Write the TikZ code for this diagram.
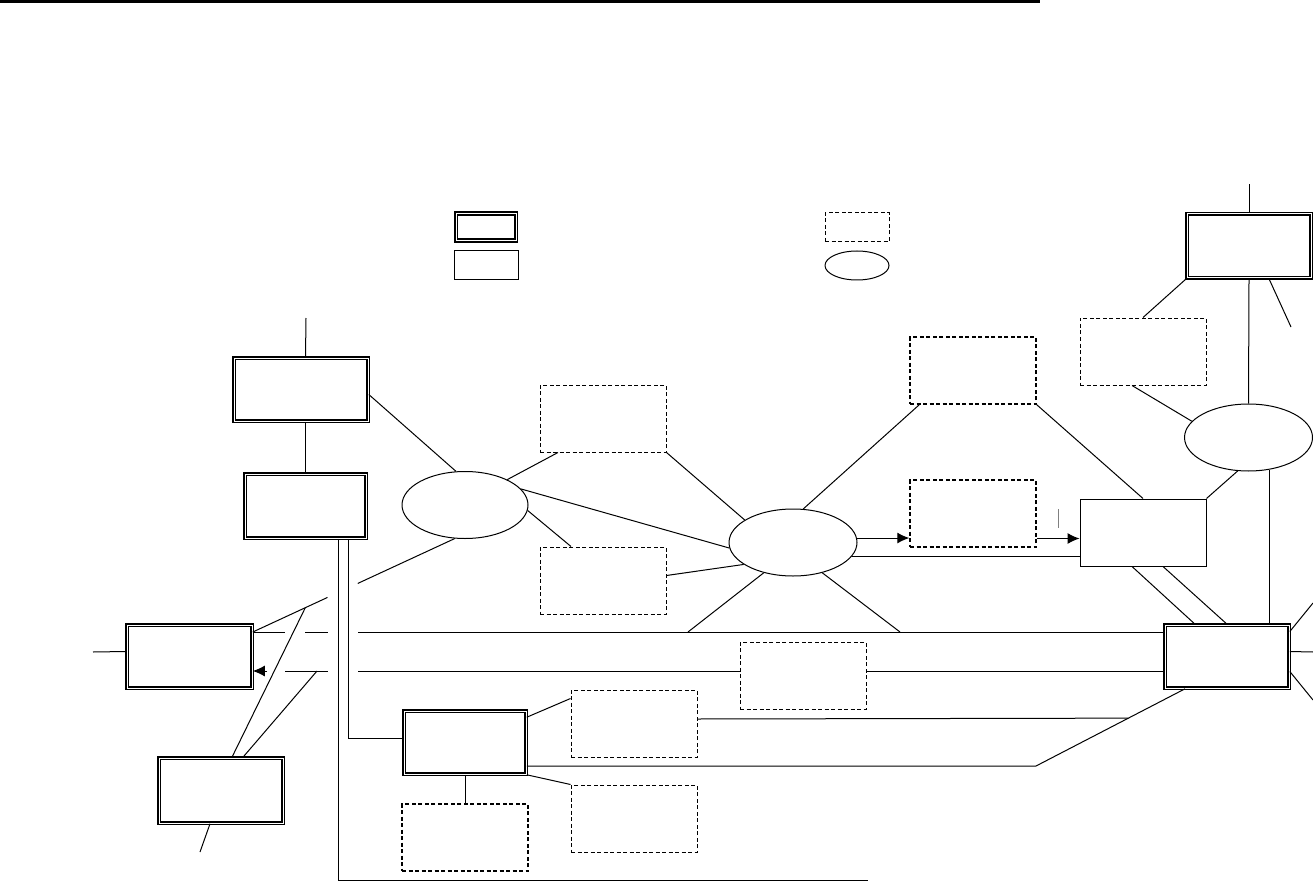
\documentclass[tikz,border=0pt]{standalone}
\usetikzlibrary{shapes.geometric,arrows.meta,calc}

\begin{document}
\begin{tikzpicture}[x=1pt, y=-1pt, line width=1pt,
    dblbox/.style={draw, double, line width=1.6pt, double distance=1pt, inner sep=0pt, minimum width=124pt, minimum height=63pt},
    dashbox/.style={draw, dash pattern=on 4pt off 2.5pt, inner sep=0pt, minimum width=126pt, minimum height=67pt},
    heavy/.style={line width=1.5pt},
    plainbox/.style={draw, inner sep=0pt, minimum width=126pt, minimum height=67pt},
    hub/.style={draw, ellipse, inner sep=0pt, minimum width=128pt, minimum height=67pt},
    arr/.style={-{Latex[length=12pt,width=11pt]}}]
    \useasboundingbox (0,0) rectangle (1313,882);
    \draw[line width=3pt] (0,1.5) -- (1040,1.5);

    \node[dblbox, minimum width=60pt, minimum height=27pt] (legdouble) at (486,227) {};
    \node[plainbox, minimum width=64pt, minimum height=29pt] (legplain) at (486,265.5) {};
    \node[dashbox, minimum width=64pt, minimum height=29pt] (legdash) at (857,227.5) {};
    \node[hub, minimum width=64pt, minimum height=29pt] (legoval) at (857,265.5) {};

    \node[dblbox, minimum width=134pt] (upperleft) at (301,389.5) {};
    \node[dblbox, minimum width=121pt, minimum height=64pt] (innerleft) at (305.5,506) {};
    \node[hub, minimum width=126pt] (hubleft) at (465,505) {};
    \node[dashbox] (noteone) at (603,418.5) {};
    \node[dashbox] (notetwo) at (603,580.5) {};
    \node[hub] (hubmid) at (793,542.5) {};
    \node[dashbox, heavy] (notethree) at (973,370.5) {};
    \node[dashbox, heavy] (notefour) at (973,513.5) {};
    \node[plainbox] (plain) at (1143,532.5) {};
    \node[dashbox] (notefive) at (1143,351.5) {};
    \node[dblbox, minimum height=64pt] (upperright) at (1249,246) {};
    \node[hub] (hubright) at (1248.5,437.5) {};
    \node[dblbox] (right) at (1227,656.5) {};
    \node[dblbox, minimum width=125pt] (left) at (189.5,656.5) {};
    \node[dblbox, minimum height=65pt] (lowerleft) at (221,790.5) {};
    \node[dblbox, minimum width=122pt] (lower) at (465,742.5) {};
    \node[dashbox] (notesix) at (803,675.5) {};
    \node[dashbox] (noteseven) at (634,723.5) {};
    \node[dashbox] (noteeight) at (634,818.5) {};
    \node[dashbox, heavy] (notenine) at (465,837.5) {};

    \coordinate (ultop) at (306,318);
    \coordinate (urtop) at (1249,184);
    \coordinate (urdiag) at (1291,327);
    \coordinate (lstub) at (93,652);
    \coordinate (llstub) at (200,852);
    \coordinate (rne) at (1313,603);
    \coordinate (re) at (1313,652);
    \coordinate (rse) at (1313,700);
    \coordinate (busend) at (868,880);
    \coordinate (bend) at (1036,766);
    \coordinate (ja) at (688,632);
    \coordinate (jb) at (900,632);
    \coordinate (lj) at (317,671);
    \coordinate (tka) at (1058,509);
    \coordinate (tkb) at (1058,528);
    \coordinate (ga) at (267,0);
    \coordinate (gb) at (285,0);
    \coordinate (gc) at (305,0);
    \coordinate (gd) at (328,0);
    \coordinate (ge) at (358,0);
    \coordinate (up) at ([yshift=24.5pt]left.east);
    \coordinate (lo) at ([yshift=-14.5pt]left.east);
    \coordinate (fa) at ([yshift=-25pt]notefour.east);
    \coordinate (drs) at ([xshift=-42pt]right.south);

    \draw (innerleft.north |- upperleft.north) -- (ultop);
    \draw (innerleft.north |- upperleft.south) -- (innerleft.north);
    \draw ([yshift=-5pt]upperleft.east) -- (hubleft.105);
    \draw (hubleft.31) -- ([xshift=-45pt]noteone.south);
    \draw (noteone.south east) -- (hubmid.155);
    \draw (hubleft.-5) -- ([xshift=-32pt]notetwo.north);
    \draw ([yshift=5pt]notetwo.east) -- (hubmid.204);
    \draw (hubleft.16) -- (hubmid.185);
    \draw (hubmid.73) -- ([xshift=10pt]notethree.south west);
    \draw[arr] (hubmid.4) -- (hubmid.4 -| notefour.west);
    \draw[arr] (fa) -- (fa -| plain.west);
    \draw (hubmid.-13) -- (hubmid.-13 -| plain.west);
    \draw (hubmid.226) -- (ja);
    \draw (hubmid.-46) -- (jb);
    \draw (notethree.south east) -- (plain.north);
    \draw (plain.north east) -- (hubright.-108);
    \draw ([xshift=-11pt]plain.south) -- ([xshift=-32pt]right.north);
    \draw ([xshift=20pt]plain.south) -- (right.north);
    \draw (upperright.north) -- (urtop);
    \draw (upperright.south) -- (hubright.north);
    \draw ([xshift=20pt]upperright.south) -- (urdiag);
    \draw (upperright.south west) -- (notefive.north);
    \draw ([xshift=-11pt]notefive.south) -- (hubright.164);
    \draw (hubright.-57) -- (hubright.-57 |- right.north);
    \draw ([yshift=25pt]right.east) -- (rne);
    \draw ([yshift=5pt]right.east) -- (re);
    \draw ([yshift=-15pt]right.east) -- (rse);
    \draw[gray] (tka) -- (tkb);

    \draw (up) -- (up -| gb) (up -| gc) -- (up -| gd) (up -| ge) -- (up -| right.west);
    \draw[arr] (lo -| ga) -- (lo);
    \draw (lo -| gb) -- (lo -| gd) (lo -| ge) -- (lo -| notesix.west) (lo -| notesix.east) -- (lo -| right.west);
    \draw ([yshift=5pt]left.west) -- (lstub);
    \draw (hubleft.253) -- ($(hubleft.253)!0.48!(up)$) ($(hubleft.253)!0.63!(up)$) -- (up);
    \draw ([xshift=11pt]lowerleft.north) -- ($(hubleft.253)!0.74!(up)$);
    \draw ([xshift=22pt]lowerleft.north) -- (lj);
    \draw ([xshift=-11pt]lowerleft.south) -- (llstub);
    \draw ([xshift=33pt]innerleft.south) |- (busend);
    \draw ([xshift=43pt]innerleft.south) |- ([yshift=4pt]lower.west);
    \draw ([yshift=-7pt]lower.north east) -- ([yshift=-9pt]noteseven.north west);
    \draw (lower.south east) -- (noteeight.north west);
    \draw (lower.south) -- (notenine.north);
    \draw ([yshift=-23.5pt]lower.east) -- (bend) -- (drs);
    \draw ([yshift=4.5pt]noteseven.east) -- ($(bend)!0.62!(drs)$);
\end{tikzpicture}
\end{document}
